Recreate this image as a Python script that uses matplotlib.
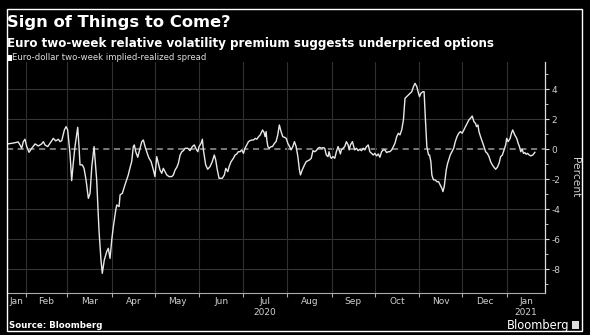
import matplotlib
matplotlib.use("Agg")
import matplotlib.pyplot as plt
import matplotlib.dates as mdates
import numpy as np
from matplotlib.patches import Rectangle

# days after 2020-01-01
days = np.array([
    18.5, 21.3, 23.5, 25.8, 27.0, 28.2, 29.3, 30.5, 31.7, 33.3, 35.2, 37.5, 39.8, 42.1, 43.3, 44.4,
    46.3, 47.9, 50.2, 51.9, 53.7, 54.9, 56.1, 57.9, 59.1, 60.2, 61.8, 63.0, 64.1, 65.3, 67.2, 68.1,
    68.8, 70.4, 71.6, 73.0, 74.6, 75.8, 77.0, 78.6, 80.4, 82.0, 83.4, 84.3, 85.7, 87.4, 88.5, 89.7,
    90.9, 92.0, 93.7, 94.4, 96.0, 96.7, 98.3, 99.7, 101.3, 102.4, 103.8, 104.8, 105.9, 106.6, 107.6,
    109.0, 110.6, 111.8, 112.9, 114.1, 116.0, 116.9, 118.3, 119.9, 121.0, 122.2, 123.3, 124.5, 125.7,
    126.8, 128.0, 129.2, 130.8, 132.7, 133.8, 135.0, 136.2, 137.3, 138.5, 139.7, 140.8, 142.0, 143.8,
    145.4, 147.0, 148.4, 149.4, 150.8, 151.7, 153.1, 154.0, 154.7, 155.4, 156.3, 157.7, 159.3, 160.9,
    162.3, 163.3, 164.2, 165.1, 165.6, 167.9, 169.3, 170.3, 171.7, 172.6, 174.0, 175.6, 176.8, 178.0,
    179.0, 180.3, 181.4, 182.6, 183.7, 184.9, 186.1, 187.2, 188.4, 189.6, 190.8, 191.9, 193.1, 194.3,
    195.9, 197.0, 197.7, 198.4, 198.9, 199.6, 200.5, 201.9, 202.8, 204.2, 205.3, 206.5, 207.6, 208.8,
    210.0, 211.2, 212.4, 213.5, 214.7, 215.8, 217.0, 218.1, 219.3, 220.5, 221.6, 222.3, 223.5, 225.1,
    226.3, 227.5, 228.6, 229.8, 231.0, 232.2, 233.3, 234.5, 235.7, 236.8, 238.0, 239.2, 240.3, 241.5,
    242.2, 243.1, 243.8, 245.0, 246.2, 247.3, 248.5, 249.2, 250.1, 250.8, 252.0, 253.1, 254.3, 255.5,
    256.2, 257.1, 258.5, 259.4, 260.1, 261.3, 262.5, 263.6, 264.8, 266.0, 267.1, 268.3, 269.5, 270.6,
    271.8, 273.0, 274.1, 275.3, 276.5, 277.6, 278.8, 280.0, 281.1, 282.3, 283.5, 284.6, 285.8, 287.0,
    288.1, 289.3, 290.5, 291.6, 292.8, 294.0, 295.1, 296.3, 297.5, 298.6, 299.8, 301.0, 302.1, 303.3,
    304.5, 305.2, 306.1, 307.5, 308.4, 309.1, 310.3, 311.5, 312.2, 313.1, 313.8, 314.5, 315.0, 316.1,
    317.3, 318.5, 319.6, 320.8, 321.5, 322.4, 323.1, 323.8, 324.8, 325.5, 326.6, 327.8, 329.0, 330.1,
    331.3, 332.5, 333.7, 334.9, 336.1, 337.2, 338.4, 339.6, 340.7, 341.9, 343.1, 344.2, 344.9, 345.9,
    346.6, 347.7, 348.9, 350.1, 351.2, 352.4, 353.6, 354.7, 355.9, 357.1, 358.2, 359.4, 360.6, 361.7,
    362.9, 364.1, 365.2, 365.9, 366.9, 368.3, 369.2, 370.1, 371.5, 372.9, 373.9, 374.8, 375.7, 376.7,
    377.6, 378.5, 379.5, 380.4, 381.6, 382.7, 384.1, 385.5,
])

# Euro-dollar two-week implied-realized spread (percent)
spread = np.array([
    0.36, 0.40, 0.44, 0.49, 0.29, 0.07, 0.51, 0.67, 0.18, -0.20, 0.07, 0.36, 0.22, 0.36, 0.51, 0.29,
    0.18, 0.40, 0.73, 0.56, 0.67, 0.51, 0.58, 1.29, 1.51, 1.29, -0.27, -2.09, -0.93, 0.18, 1.47, 0.18,
    -1.04, -1.04, -1.27, -2.04, -3.27, -2.93, -1.16, 0.18, -2.04, -5.38, -7.38, -8.27, -7.38, -6.82, -6.60, -7.27,
    -6.04, -5.16, -4.04, -3.71, -3.82, -3.04, -2.93, -2.49, -2.04, -1.71, -1.16, -0.82, 0.18, 0.29, -0.16,
    -0.53, 0.07, 0.51, 0.62, 0.18, -0.38, -0.60, -0.82, -1.38, -1.82, -0.49, -0.93, -1.38, -1.60,
    -1.27, -1.49, -1.71, -1.82, -1.82, -1.71, -1.38, -1.20, -0.93, -0.38, -0.16, -0.09, 0.07, 0.07,
    -0.09, 0.18, 0.29, 0.07, -0.16, 0.18, 0.40, 0.67, -0.04, -0.49, -1.04, -1.33, -1.16, -0.82,
    -0.38, -0.71, -1.27, -1.71, -1.93, -1.93, -1.71, -1.27, -1.49, -1.16, -0.82, -0.60, -0.38, -0.31,
    -0.16, -0.16, -0.04, -0.27, 0.07, 0.29, 0.51, 0.58, 0.62, 0.62, 0.73, 0.67, 0.84, 0.96,
    1.29, 1.11, 0.84, 1.18, 0.62, 0.18, 0.07, 0.18, 0.18, 0.40, 0.51, 0.96, 1.62, 1.18,
    0.84, 0.80, 0.73, 0.40, 0.18, -0.04, 0.18, 0.51, 0.18, -0.49, -1.38, -1.71, -1.38, -1.04,
    -0.82, -0.76, -0.71, -0.60, -0.09, -0.16, -0.09, 0.07, 0.13, 0.07, 0.11, 0.07, -0.38, -0.49,
    -0.16, -0.49, -0.60, -0.49, -0.60, -0.16, 0.18, -0.04, -0.31, -0.04, 0.07, 0.18, 0.51, 0.29,
    -0.04, 0.29, 0.51, 0.18, -0.04, 0.07, -0.09, 0.00, -0.09, 0.07, -0.04, 0.18, 0.29, -0.16,
    -0.27, -0.38, -0.27, -0.44, -0.31, -0.53, -0.16, -0.04, -0.04, -0.22, -0.16, -0.16, -0.04, 0.18,
    0.40, 0.84, 1.07, 0.96, 1.29, 1.96, 3.40, 3.51, 3.62, 3.73, 3.84, 4.18, 4.40, 4.18,
    3.73, 3.51, 3.73, 3.84, 3.84, 2.40, 0.18, -0.38, -0.38, -0.82, -1.71, -1.93, -2.04, -2.04,
    -2.16, -2.16, -2.38, -2.60, -2.82, -2.49, -1.93, -1.38, -0.93, -0.71, -0.38, -0.16, 0.07, 0.51,
    0.84, 1.07, 1.18, 1.07, 1.29, 1.51, 1.73, 1.96, 2.07, 2.22, 1.84, 1.73, 1.51, 1.62,
    1.18, 0.84, 0.51, 0.18, -0.16, -0.27, -0.49, -0.82, -1.04, -1.20, -1.33, -1.20, -0.93, -0.49,
    -0.38, -0.04, 0.29, 0.73, 0.51, 0.73, 1.07, 1.29, 0.96, 0.73, 0.40, 0.18, -0.16, 0.00,
    -0.27, -0.22, -0.33, -0.27, -0.38, -0.44, -0.38, -0.20,
])

month_labels = ["Jan", "Feb", "Mar", "Apr", "May", "Jun", "Jul\n2020", "Aug",
                "Sep", "Oct", "Nov", "Dec", "Jan\n2021"]
y_ticks = [4, 2, 0, -2, -4, -6, -8]
y_tick_labels = ["4", "2", "0", "-2", "-4", "-6", "-8"]

W, H = 590, 335


def fx(x):
    return x / W


def fy(y):
    return 1 - y / H


base = np.datetime64("2020-01-01T00:00")
dates = base + np.round(days * 24 * 60).astype("timedelta64[m]")

fig = plt.figure(figsize=(W / 100, H / 100), dpi=100, facecolor="black")
ax = fig.add_axes([fx(7), fy(293), fx(545) - fx(7), fy(62) - fy(293)])
ax.set_facecolor("black")

x0 = mdates.date2num(np.datetime64("2020-01-18T23:00"))
x1 = mdates.date2num(np.datetime64("2021-01-27T14:00"))
ax.set_xlim(x0, x1)
ax.set_ylim(-9.58, 5.82)

# month boundaries and centred month labels
month_starts = mdates.date2num(np.arange("2020-01", "2021-03", dtype="datetime64[M]").astype("datetime64[m]"))
label_pos = [(max(month_starts[i], x0) + min(month_starts[i + 1], x1)) / 2 for i in range(13)]
ax.set_xticks([m for m in month_starts if x0 < m < x1])
ax.set_xticklabels([])
ax.set_xticks(label_pos, minor=True)
ax.set_xticklabels(month_labels, minor=True)
ax.tick_params(axis="x", which="major", length=3, color="#aaaaaa", direction="out")
ax.tick_params(axis="x", which="minor", length=0, pad=3, labelsize=6.5, labelcolor="#d0d0d0")
ax.grid(axis="x", which="major", color="#303030", lw=0.8)

ax.yaxis.tick_right()
ax.yaxis.set_label_position("right")
ax.set_yticks(y_ticks)
ax.set_yticklabels(y_tick_labels)
ax.set_yticks(np.arange(-9, 6, 2), minor=True)
ax.tick_params(axis="y", which="major", length=3, color="#dddddd", labelsize=6.5,
               labelcolor="#d0d0d0", pad=1.5)
ax.tick_params(axis="y", which="minor", length=2, color="#dddddd")
ax.set_ylabel("Percent", rotation=270, color="#d0d0d0", fontsize=7.7, labelpad=14)
for y in y_ticks:
    if y != 0:
        ax.axhline(y, color="#363636", lw=0.8, zorder=0)
ax.axhline(0, color="#9a9a9a", lw=1.1, dashes=(4, 3), zorder=1)

for s in ["left", "top"]:
    ax.spines[s].set_visible(False)
ax.spines["right"].set_color("#dddddd")
ax.spines["bottom"].set_color("#aaaaaa")
ax.spines["right"].set_linewidth(0.9)
ax.spines["bottom"].set_linewidth(0.8)

ax.plot(dates, spread, color="#e8e8e8", lw=1.0, zorder=3)

# titles, legend, source
fig.text(fx(7), fy(23), "Sign of Things to Come?", fontsize=11.8, fontweight="bold",
         color="white", va="center")
fig.text(fx(7), fy(43), "Euro two-week relative volatility premium suggests underpriced options",
         fontsize=8.6, fontweight="bold", color="white", va="center")
fig.patches.append(Rectangle((fx(6.5), fy(60.5)), fx(5), 5 / H, transform=fig.transFigure,
                             facecolor="white", edgecolor="none"))
fig.text(fx(12.5), fy(57.5), "Euro-dollar two-week implied-realized spread", fontsize=6.1,
         color="#dddddd", va="center")
fig.text(fx(9), fy(325), "Source: Bloomberg", fontsize=6.2, fontweight="bold",
         color="white", va="center")
fig.text(fx(569), fy(325), "Bloomberg", fontsize=8.3, color="white", va="center", ha="right")
fig.patches.append(Rectangle((fx(572), fy(329)), fx(7), 8 / H, transform=fig.transFigure,
                             facecolor="#dddddd", edgecolor="none"))

# outer frame
fig.patches.append(Rectangle((fx(7), fy(331)), fx(582) - fx(7), (331 - 9) / H,
                             transform=fig.transFigure, fill=False, edgecolor="white", lw=1))

fig.savefig("out.png", dpi=100, facecolor="black")
